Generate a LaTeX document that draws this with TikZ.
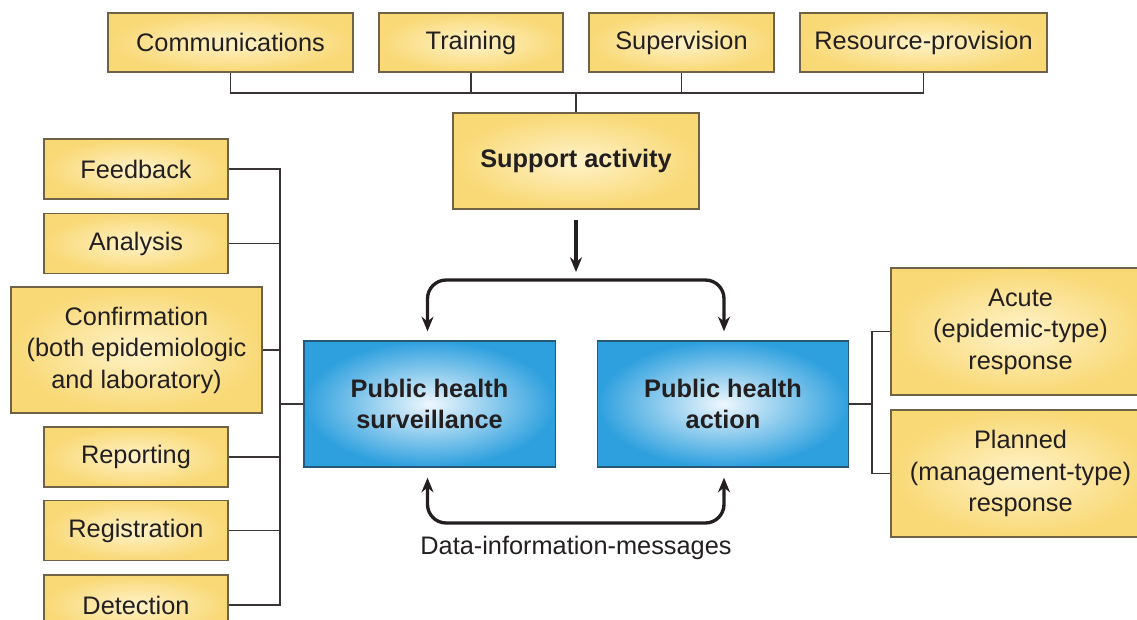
\documentclass[tikz,border=0pt]{standalone}
\usepackage{fontspec}
\setmainfont{Liberation Sans}
\usetikzlibrary{arrows.meta,calc}

\definecolor{boxedge}{RGB}{249,217,118}
\definecolor{boxcore}{RGB}{254,242,200}
\definecolor{boxline}{RGB}{112,98,70}
\definecolor{blueedge}{RGB}{46,160,222}
\definecolor{bluecore}{RGB}{238,247,253}
\definecolor{blueline}{RGB}{38,88,122}
\definecolor{inkgrey}{RGB}{35,31,32}

\tikzset{
	yellowbox/.style={draw=boxline, line width=1pt, shading=radial, inner color=boxcore, outer color=boxedge, inner sep=0pt, align=center, text=inkgrey, font=\fontsize{19}{23.6}\selectfont},
	bluebox/.style={draw=blueline, line width=1pt, shading=radial, inner color=bluecore, outer color=blueedge, inner sep=0pt, align=center, text=inkgrey, font=\fontsize{19}{23.6}\selectfont\bfseries, minimum width=188.5pt, minimum height=94.5pt},
	link/.style={draw=inkgrey!90, line width=1.3pt},
	flow/.style={draw=inkgrey, line width=2.5pt, -{Stealth[length=11pt,width=9pt]}},
	twoway/.style={flow, {Stealth[length=11pt,width=9pt]}-{Stealth[length=11pt,width=9pt]}, rounded corners=14pt},
}

\begin{document}
\begin{tikzpicture}[x=0.75pt,y=0.75pt,yscale=-1,xscale=1]
	\useasboundingbox (0,0) rectangle (1137,619);
	\clip (0,0) rectangle (1137,619);

	% Top row
	\node [yellowbox, minimum width=183.75pt, minimum height=44.25pt] (comm) at (230.5,42.5) {Communications};
	\node [yellowbox, minimum width=138pt, minimum height=44.25pt] (train) at (471,42.5) {Training};
	\node [yellowbox, minimum width=138.75pt, minimum height=44.25pt] (superv) at (681.5,42.5) {Supervision};
	\node [yellowbox, minimum width=185.25pt, minimum height=44.25pt] (resprov) at (923.5,42.5) {Resource-provision};
	\coordinate (topbus) at (576,93);

	% Support activity
	\node [yellowbox, font=\fontsize{19}{23.6}\selectfont\bfseries, minimum width=184.5pt, minimum height=72pt] (support) at (576,161) {Support activity};

	% Centre boxes
	\node [bluebox] (surv) at (429.5,404) {Public health\\surveillance};
	\node [bluebox] (action) at (723,404) {Public health\\action};
	\coordinate (fork) at (576,280);
	\coordinate (loop) at (576,523);

	% Left column
	\node [yellowbox, minimum width=138pt, minimum height=45pt] (feedback) at (136,169) {Feedback};
	\node [yellowbox, minimum width=138pt, minimum height=45pt] (analysis) at (136,243.5) {Analysis};
	\node [yellowbox, minimum width=188.25pt, minimum height=94.5pt] (confirm) at (136.5,350) {Confirmation\\(both epidemiologic\\and laboratory)};
	\node [yellowbox, minimum width=138pt, minimum height=45pt] (reporting) at (136,457) {Reporting};
	\node [yellowbox, minimum width=138pt, minimum height=45pt] (registration) at (136,530.5) {Registration};
	\node [yellowbox, minimum width=138pt, minimum height=45pt] (detection) at (136,605) {Detection};
	\coordinate (leftbus) at (280,404);

	% Right column
	\node [yellowbox, minimum width=194.25pt, minimum height=95.25pt] (acute) at (1020.5,331.5) {Acute\\(epidemic-type)\\response};
	\node [yellowbox, minimum width=194.25pt, minimum height=95.25pt] (planned) at (1020.5,473.5) {Planned\\(management-type)\\response};
	\coordinate (rightbus) at (872,404);

	% Connectors, top
	\draw [link] (comm.south) -- (comm.south |- topbus) -- (resprov.south |- topbus) -- (resprov.south);
	\draw [link] (train.south) -- (train.south |- topbus);
	\draw [link] (superv.south) -- (superv.south |- topbus);
	\draw [link] (topbus) -- (support.north);

	% Connectors, left
	\draw [link] (feedback.east) -| (leftbus |- detection.east) -- (detection.east);
	\draw [link] (analysis.east) -- (analysis.east -| leftbus);
	\draw [link] (confirm.east) -- (confirm.east -| leftbus);
	\draw [link] (reporting.east) -- (reporting.east -| leftbus);
	\draw [link] (registration.east) -- (registration.east -| leftbus);
	\draw [link] (leftbus) -- (surv.west);

	% Connectors, right
	\draw [link] (acute.west) -| (rightbus |- planned.west) -- (planned.west);
	\draw [link] (action.east) -- (rightbus);

	% Arrows
	\draw [flow] ($(support.south)+(0,10)$) -- ($(fork)+(0,-8)$);
	\draw [twoway] ($(surv.north)+(-2,-9)$) |- (fork) -| ($(action.north)+(1,-9)$);
	\draw [twoway] ($(surv.south)+(-2,10)$) |- (loop) -| ($(action.south)+(1,10)$);

	% Text Node
	\node [text=inkgrey, font=\fontsize{19}{23.6}\selectfont] (dim) at (576,548) {Data-information-messages};
\end{tikzpicture}
\end{document}
